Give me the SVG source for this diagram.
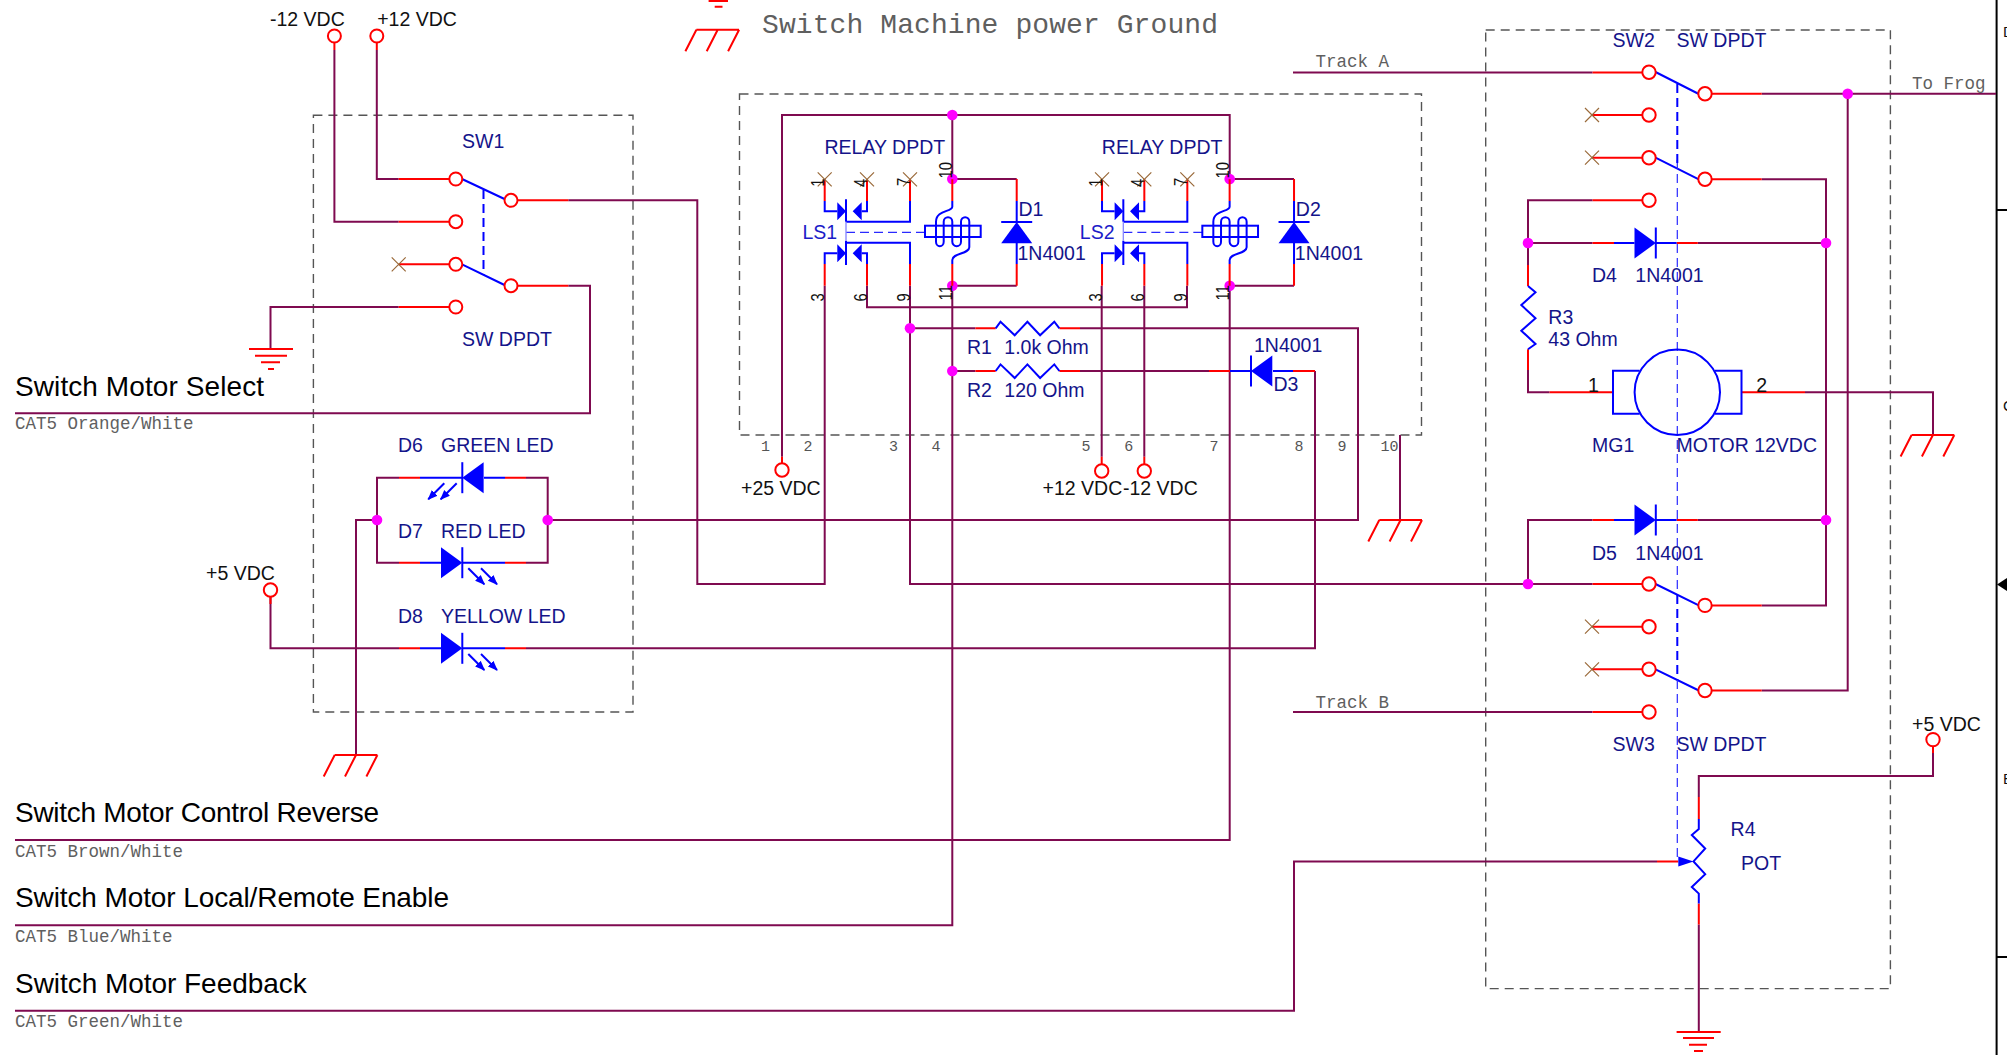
<svg xmlns="http://www.w3.org/2000/svg" width="2007" height="1055" viewBox="0 0 2007 1055">
<style>
text{font-family:"Liberation Sans",Arial,sans-serif;font-size:19.5px}
.n{fill:#14148a}
.b{fill:#1c1cc8}
.k{fill:#111}
.big{fill:#000;font-size:28px}
.m{font-family:"Liberation Mono","Courier New",monospace;fill:#5f5f5f;font-size:17.5px}
.p{font-family:"Liberation Mono","Courier New",monospace;fill:#555;font-size:15px;text-anchor:middle}
.pin{fill:#111;font-size:18.5px}
.edge{fill:#111;font-size:15px}
.w,.r,.u,.g,.x,.t,.box,.lk,.lkt{fill:none}
.w{stroke:#7f0a50;stroke-width:2}
.r{stroke:#f00;stroke-width:2}
.u{stroke:#00f;stroke-width:2}
.g{stroke:#f00;stroke-width:2}
.x{stroke:#9a6a3a;stroke-width:1.2}
.t{stroke:#f00;stroke-width:2;fill:#fff}
.box{stroke:#555;stroke-width:1.4;stroke-dasharray:9 6}
.lk{stroke:#00f;stroke-width:2;stroke-dasharray:9 5}
.lkt{stroke:#2a2aff;stroke-width:1.2;stroke-dasharray:9 5}
.f{fill:#00f}
.dot{fill:#f0f}
.e{fill:none;stroke:#000;stroke-width:2}
</style>
<defs>
<marker id="ah" viewBox="0 0 10 8" refX="9" refY="4" markerWidth="10" markerHeight="8.5" markerUnits="userSpaceOnUse" orient="auto"><path d="M0 0L10 4L0 8Z" fill="#00f"/></marker>
<g id="dio"><path class="f" d="M-21.3-15.5L0 0L-21.3 15.5Z"/><path class="u" d="M0-15.5V15.5"/></g>
<g id="chassis"><path class="g" d="M0 0H42.7M0 0L-11 21.5M21.3 0L10.3 21.5M42.7 0L31.7 21.5"/></g>
<path id="cross" class="x" d="M-7-7L7 7M-7 7L7-7"/>
<path id="ledray" class="u" stroke-width="1.6" d="M0 0L16 16" marker-end="url(#ah)"/>
<g id="relay-art">
<path class="r" d="M824.7 179.3V201M867 179.3V201M910 179.3V201M952.3 179.3V201M824.7 264V285.7M867 264V285.7M910 264V285.7M952.3 264V285.7M1016.7 179V201M1016.7 264V285.7"/>
<path class="u" d="M824.7 201V211.3H837.3M861.7 211.3H867V201M846 221.7H910V201M846 242.7H910V264M824.7 264V253.3H837.3M861.7 253.3H867V264M846 199.3V221.7M846 240.7V265M1016.7 201V222M1016.7 243V264"/>
<path class="f" d="M837.3 202.3L846 211.3L837.3 220.3ZM852.7 211.3L861.7 202.3V220.3ZM837.3 244.3L846 253.3L837.3 262.3ZM852.7 253.3L861.7 244.3V262.3Z"/>
<path class="lkt" d="M846 232.3H925"/>
<path stroke="#8a8aff" stroke-width="1.4" d="M846 221.7V240.7"/>
<rect class="u" x="925" y="225.7" width="55.7" height="11.3"/>
<path class="u" d="M952.3 201V206.7C952.3 212 936 210 936 221.7V241.7A3.85 4.5 0 0 0 943.7 241.7V221.7A4.3 4.5 0 0 1 952.3 221.7V241.7A4.35 4.5 0 0 0 961 241.7V221.7A4.15 4.5 0 0 1 969.3 221.7V247.3C969.3 254 952.3 253 952.3 260V264"/>
<use href="#dio" transform="translate(1016.7 222) rotate(-90)"/>
<use href="#cross" x="824.7" y="179.3"/><use href="#cross" x="867" y="179.3"/><use href="#cross" x="910" y="179.3"/>
</g>
</defs>
<rect width="2007" height="1055" fill="#fff"/>

<g id="sheet">
<path class="e" d="M1996.6 0V1055M1996.6 210H2007M1996.6 957H2007"/>
<path fill="#000" d="M1997 584.5L2007 578V591Z"/>
<text class="edge" x="2003" y="37.3">D</text><text class="edge" x="2003" y="411">C</text><text class="edge" x="2003" y="784">B</text>
</g>

<g id="boxes">
<rect class="box" x="313.4" y="115.3" width="319.6" height="596.7"/>
<rect class="box" x="739.5" y="94" width="682" height="341"/>
<rect class="box" x="1485.7" y="30" width="404.7" height="958.6"/>
</g>

<g id="connectors">
<path class="w" d="M376.8 50V179H398.7M334.4 50V221.7H398.7"/>
<path class="w" d="M568.3 200.3H697.3V584H824.7V285.7"/>
<path class="w" d="M398.7 307H270.5V349"/>
<path class="w" d="M15 413.3H590V285.7H568.3"/>
<path class="w" d="M399 477.7H377V562.7H399M377 520H356V755"/>
<path class="w" d="M526 477.7H547.7V562.7H526M547.7 520H1358V328.3H1080"/>
<path class="w" d="M910 328.3H975.4M952.3 371H975.4M1080 371H1209"/>
<path class="w" d="M1315 371V648.3H526M270.5 597V648.3H399"/>
<path class="w" d="M782 456.7V115H1229.7V179M952.3 115V179M952.3 179H1016.7M952.3 285.7H1016.7M1229.7 179H1294M1229.7 285.7H1294"/>
<path class="w" d="M867 285.7V307.3H1187V285.7"/>
<path class="w" d="M910 285.7V584H1592.6"/>
<path class="w" d="M1101.7 285.7V456.7M1144.3 285.7V456.7"/>
<path class="w" d="M952.3 285.7V925.3H15M1229.7 285.7V840H15"/>
<path class="w" d="M1293 72.5H1592.6M1293 712H1592.6"/>
<path class="w" d="M1761.7 93.7H1996M1847.7 93.7V690.5H1761.7"/>
<path class="w" d="M1761.7 179.3H1826V605.4H1761.7"/>
<path class="w" d="M1592.6 200.3H1528V265M1528 370V392.3H1549.6"/>
<path class="w" d="M1528 243H1592.6M1697.8 243H1826M1528 584V520H1592.6M1697.8 520H1826"/>
<path class="w" d="M1805 392.3H1933V435M1400 435V520"/>
<path class="w" d="M1933 753V776H1698.8V797M1698.8 924.4V1032"/>
<path class="w" d="M15 1010.7H1294V861.4H1657"/>
</g>

<g id="junctions">
<circle class="dot" cx="952.3" cy="115" r="5.3"/><circle class="dot" cx="952.3" cy="179" r="5.3"/><circle class="dot" cx="952.3" cy="285.7" r="5.3"/>
<circle class="dot" cx="1229.7" cy="179" r="5.3"/><circle class="dot" cx="1229.7" cy="285.7" r="5.3"/>
<circle class="dot" cx="910" cy="328.3" r="5.3"/><circle class="dot" cx="952.3" cy="371" r="5.3"/>
<circle class="dot" cx="377" cy="520" r="5.3"/><circle class="dot" cx="547.7" cy="520" r="5.3"/>
<circle class="dot" cx="1847.7" cy="93.7" r="5.3"/><circle class="dot" cx="1528" cy="243" r="5.3"/><circle class="dot" cx="1826" cy="243" r="5.3"/>
<circle class="dot" cx="1528" cy="584" r="5.3"/><circle class="dot" cx="1826" cy="520" r="5.3"/>
</g>

<g id="legend">
<path class="g" d="M708.6 1H728M714.7 6.7H722.5"/>
<use href="#chassis" x="696.4" y="29.7"/>
<text class="m" x="762" y="32.5" style="font-size:28px" textLength="456">Switch Machine power Ground</text>
</g>

<g id="power-terminals">
<path class="r" d="M334.4 42.5V50M376.8 42.5V50M782 456.7V463M1101.7 456.7V464M1144.3 456.7V464M270.5 597V604M1933 746V753"/>
<circle class="t" cx="334.4" cy="36" r="6.5"/><circle class="t" cx="376.8" cy="36" r="6.5"/>
<text class="k" x="270" y="26">-12 VDC</text><text class="k" x="377.2" y="26">+12 VDC</text>
<circle class="t" cx="782" cy="470" r="6.7"/><text class="k" x="741" y="495">+25 VDC</text>
<circle class="t" cx="1101.7" cy="471" r="6.7"/><circle class="t" cx="1144.3" cy="471" r="6.7"/>
<text class="k" x="1042.6" y="495">+12 VDC</text><text class="k" x="1123" y="495">-12 VDC</text>
<circle class="t" cx="270.5" cy="590" r="6.7"/><text class="k" x="206" y="580">+5 VDC</text>
<circle class="t" cx="1933" cy="739.6" r="6.7"/><text class="k" x="1912" y="730.5">+5 VDC</text>
</g>

<g id="SW1">
<path class="r" d="M398.7 179H449.3M398.7 221.7H449.3M398.7 264.3H449.3M398.7 307H449.3M517.5 200.3H568.3M517.5 285.7H568.3"/>
<path class="u" d="M462 179L504.5 199M462 264.3L504.5 285"/>
<path class="lk" d="M483.5 190V275"/>
<circle class="t" cx="455.8" cy="179" r="6.5"/><circle class="t" cx="455.8" cy="221.7" r="6.5"/><circle class="t" cx="455.8" cy="264.3" r="6.5"/><circle class="t" cx="455.8" cy="307" r="6.5"/>
<circle class="t" cx="511" cy="200.3" r="6.5"/><circle class="t" cx="511" cy="285.7" r="6.5"/>
<use href="#cross" x="398.7" y="264.3"/>
<text class="n" x="462" y="148.3">SW1</text><text class="n" x="462" y="346">SW DPDT</text>
</g>

<g id="GND1"><path class="g" d="M249 349H293M255 355.7H287M261 362.3H280M268 369H274"/></g>
<g id="GND-chassis-leds"><use href="#chassis" x="334.7" y="755"/></g>
<g id="GND-chassis-relay"><use href="#chassis" x="1379.3" y="520"/></g>
<g id="GND-chassis-motor"><use href="#chassis" x="1911.6" y="435"/></g>
<g id="GND2"><path class="g" d="M1676.6 1032H1720.7M1683 1038H1714M1689 1044.7H1707M1694 1051H1703"/></g>

<g id="labels-wires">
<text class="big" x="15" y="395.7" textLength="249">Switch Motor Select</text><text class="m" x="15" y="429">CAT5 Orange/White</text>
<text class="big" x="15" y="821.7" textLength="364">Switch Motor Control Reverse</text><text class="m" x="15" y="856.5">CAT5 Brown/White</text>
<text class="big" x="15" y="906.7" textLength="434">Switch Motor Local/Remote Enable</text><text class="m" x="15" y="941.5">CAT5 Blue/White</text>
<text class="big" x="15" y="992.5" textLength="291.7">Switch Motor Feedback</text><text class="m" x="15" y="1026.7">CAT5 Green/White</text>
<text class="m" x="1315.5" y="67">Track A</text><text class="m" x="1315.5" y="708">Track B</text><text class="m" x="1912" y="89.3">To Frog</text>
</g>

<g id="D6"><path class="r" d="M399 477.7H420M505 477.7H526"/><path class="u" d="M420 477.7H462M484 477.7H505"/><use href="#dio" transform="translate(462.3 477.7) rotate(180)"/><use href="#ledray" transform="translate(444.3 483.3) rotate(90)"/><use href="#ledray" transform="translate(456.7 483.3) rotate(90)"/><text class="n" x="398" y="452.3">D6</text><text class="n" x="441" y="452.3">GREEN LED</text></g>
<g id="D7"><path class="r" d="M399 562.7H420M505 562.7H526"/><path class="u" d="M420 562.7H441M462 562.7H505"/><use href="#dio" x="462.3" y="562.7"/><use href="#ledray" x="468.3" y="568.3"/><use href="#ledray" x="481" y="568.3"/><text class="n" x="398" y="537.7">D7</text><text class="n" x="441" y="537.7">RED LED</text></g>
<g id="D8"><path class="r" d="M399 648.3H420M505 648.3H526"/><path class="u" d="M420 648.3H441M462 648.3H505"/><use href="#dio" x="462.3" y="648.3"/><use href="#ledray" x="468.3" y="654"/><use href="#ledray" x="481" y="654"/><text class="n" x="398" y="622.7">D8</text><text class="n" x="441" y="622.7">YELLOW LED</text></g>

<g id="LS1">
<use href="#relay-art"/>
<text class="n" x="824.5" y="154">RELAY DPDT</text><text class="b" x="802.5" y="239">LS1</text>
<text class="n" x="1018.5" y="216">D1</text><text class="n" x="1017.5" y="260">1N4001</text>
<text class="pin" transform="translate(824.3 186.7) rotate(-90) scale(.8 1)">1</text><text class="pin" transform="translate(867 187) rotate(-90) scale(.8 1)">4</text><text class="pin" transform="translate(909.7 186) rotate(-90) scale(.8 1)">7</text><text class="pin" transform="translate(952 178.5) rotate(-90) scale(.8 1)">10</text>
<text class="pin" transform="translate(824.3 301.5) rotate(-90) scale(.8 1)">3</text><text class="pin" transform="translate(867 301.5) rotate(-90) scale(.8 1)">6</text><text class="pin" transform="translate(909.7 301.5) rotate(-90) scale(.8 1)">9</text><text class="pin" transform="translate(952 300.5) rotate(-90) scale(.8 1)">11</text>
</g>
<g id="LS2">
<use href="#relay-art" x="277.33"/>
<text class="n" x="1101.8" y="154">RELAY DPDT</text><text class="b" x="1079.8" y="239">LS2</text>
<text class="n" x="1295.8" y="216">D2</text><text class="n" x="1294.8" y="260">1N4001</text>
<text class="pin" transform="translate(1101.6 186.7) rotate(-90) scale(.8 1)">1</text><text class="pin" transform="translate(1144.3 187) rotate(-90) scale(.8 1)">4</text><text class="pin" transform="translate(1187 186) rotate(-90) scale(.8 1)">7</text><text class="pin" transform="translate(1229.3 178.5) rotate(-90) scale(.8 1)">10</text>
<text class="pin" transform="translate(1101.6 301.5) rotate(-90) scale(.8 1)">3</text><text class="pin" transform="translate(1144.3 301.5) rotate(-90) scale(.8 1)">6</text><text class="pin" transform="translate(1187 301.5) rotate(-90) scale(.8 1)">9</text><text class="pin" transform="translate(1229.3 300.5) rotate(-90) scale(.8 1)">11</text>
</g>
<g id="relay-pins">
<text class="p" x="765.6" y="450.7">1</text><text class="p" x="808" y="450.7">2</text><text class="p" x="893.6" y="450.7">3</text><text class="p" x="936" y="450.7">4</text><text class="p" x="1086" y="450.7">5</text><text class="p" x="1128.7" y="450.7">6</text><text class="p" x="1214" y="450.7">7</text><text class="p" x="1299" y="450.7">8</text><text class="p" x="1342" y="450.7">9</text><text class="p" x="1389.5" y="450.7">10</text>
</g>

<g id="R1"><path class="r" d="M975.4 328.3H995.7M1059.4 328.3H1080"/><path class="u" d="M995.7 328.3L1000.5 321.7L1014.7 335.3L1027.4 321.7L1040.1 335.3L1054.3 321.7L1059.4 328.3"/><text class="n" x="967" y="353.7">R1</text><text class="n" x="1004.3" y="353.7">1.0k Ohm</text></g>
<g id="R2"><path class="r" d="M975.4 371H995.7M1059.4 371H1080"/><path class="u" d="M995.7 371L1000.5 364.4L1014.7 378L1027.4 364.4L1040.1 378L1054.3 364.4L1059.4 371"/><text class="n" x="967" y="396.7">R2</text><text class="n" x="1004.3" y="396.7">120 Ohm</text></g>
<g id="D3"><path class="r" d="M1209 371H1230M1293 371H1315"/><path class="u" d="M1230 371H1251M1273 371H1293"/><use href="#dio" transform="translate(1251 371) rotate(180)"/><text class="n" x="1254" y="351.7">1N4001</text><text class="n" x="1273.5" y="391">D3</text></g>

<g id="SW2">
<path class="r" d="M1592.6 72.5H1642M1592 115H1642M1592 157.7H1642M1592.6 200.3H1642M1712 93.7H1761.7M1712 179.3H1761.7"/>
<path class="u" d="M1655.5 72L1698.8 94M1655.5 157.7L1698.8 179.3"/>
<circle class="t" cx="1649" cy="72.3" r="6.7"/><circle class="t" cx="1649" cy="115" r="6.7"/><circle class="t" cx="1649" cy="157.7" r="6.7"/><circle class="t" cx="1649" cy="200.3" r="6.7"/>
<circle class="t" cx="1705" cy="93.7" r="6.7"/><circle class="t" cx="1705" cy="179.3" r="6.7"/>
<use href="#cross" x="1592" y="115"/><use href="#cross" x="1592" y="157.7"/>
<text class="n" x="1612.6" y="46.7">SW2</text><text class="n" x="1676.5" y="46.7">SW DPDT</text>
</g>
<g id="SW3">
<path class="r" d="M1592.6 584H1642M1592 626.7H1642M1592 669.3H1642M1592.6 712H1642M1712 605.4H1761.7M1712 690.5H1761.7"/>
<path class="u" d="M1655.5 584L1698.8 605.4M1655.5 669.3L1698.8 690.5"/>
<circle class="t" cx="1649" cy="584" r="6.7"/><circle class="t" cx="1649" cy="626.7" r="6.7"/><circle class="t" cx="1649" cy="669.3" r="6.7"/><circle class="t" cx="1649" cy="712" r="6.7"/>
<circle class="t" cx="1705" cy="605.4" r="6.7"/><circle class="t" cx="1705" cy="690.5" r="6.7"/>
<use href="#cross" x="1592" y="626.7"/><use href="#cross" x="1592" y="669.3"/>
<text class="n" x="1612.6" y="751.4">SW3</text><text class="n" x="1676.5" y="751.4">SW DPDT</text>
</g>
<g id="linkage">
<path class="lkt" d="M1677.3 160V590M1677.3 680V857"/>
<path class="lk" d="M1677.3 84V168M1677.3 595V680"/>
</g>
<g id="D4"><path class="r" d="M1592.6 243H1614M1676.6 243H1697.8"/><path class="u" d="M1614 243H1634.5M1655.8 243H1676.6"/><use href="#dio" x="1655.8" y="243"/><text class="n" x="1592" y="282">D4</text><text class="n" x="1635.3" y="282">1N4001</text></g>
<g id="D5"><path class="r" d="M1592.6 520H1614M1676.6 520H1697.8"/><path class="u" d="M1614 520H1634.5M1655.8 520H1676.6"/><use href="#dio" x="1655.8" y="520"/><text class="n" x="1592" y="559.6">D5</text><text class="n" x="1635.3" y="559.6">1N4001</text></g>
<g id="R3"><path class="r" d="M1528 265V286M1528 349.3V370"/><path class="u" d="M1528 286L1535.5 292.3L1521.3 305L1535.5 318.3L1521.3 330.7L1535.5 344L1528 349.3"/><text class="n" x="1548.3" y="324">R3</text><text class="n" x="1548.3" y="345.7">43 Ohm</text></g>
<g id="MG1">
<path class="r" d="M1549.6 392.3H1613M1741.5 392.3H1805"/>
<path class="u" d="M1639.7 370.7H1613V413.7H1639.7M1715 370.7H1741.5V413.7H1715"/>
<circle class="u" cx="1677.3" cy="392.3" r="42.7" fill="none"/>
<text class="k" x="1588" y="391.7">1</text><text class="k" x="1756.3" y="391.7">2</text>
<text class="n" x="1592" y="451.7">MG1</text><text class="n" x="1676.5" y="451.7">MOTOR 12VDC</text>
</g>
<g id="R4">
<path class="r" d="M1698.8 797V819M1698.8 903.5V924.4M1657 861.4H1678.3"/>
<path class="u" d="M1698.8 819V829L1691.8 835L1705.2 848.5L1693.5 861.4L1705.2 874.2L1691.8 887L1698.8 893.6V903.5"/>
<path class="f" d="M1678.3 856.4L1693.5 861.4L1678.3 866.4Z"/>
<text class="n" x="1730.6" y="836.4">R4</text><text class="n" x="1741" y="870">POT</text>
</g>
</svg>
